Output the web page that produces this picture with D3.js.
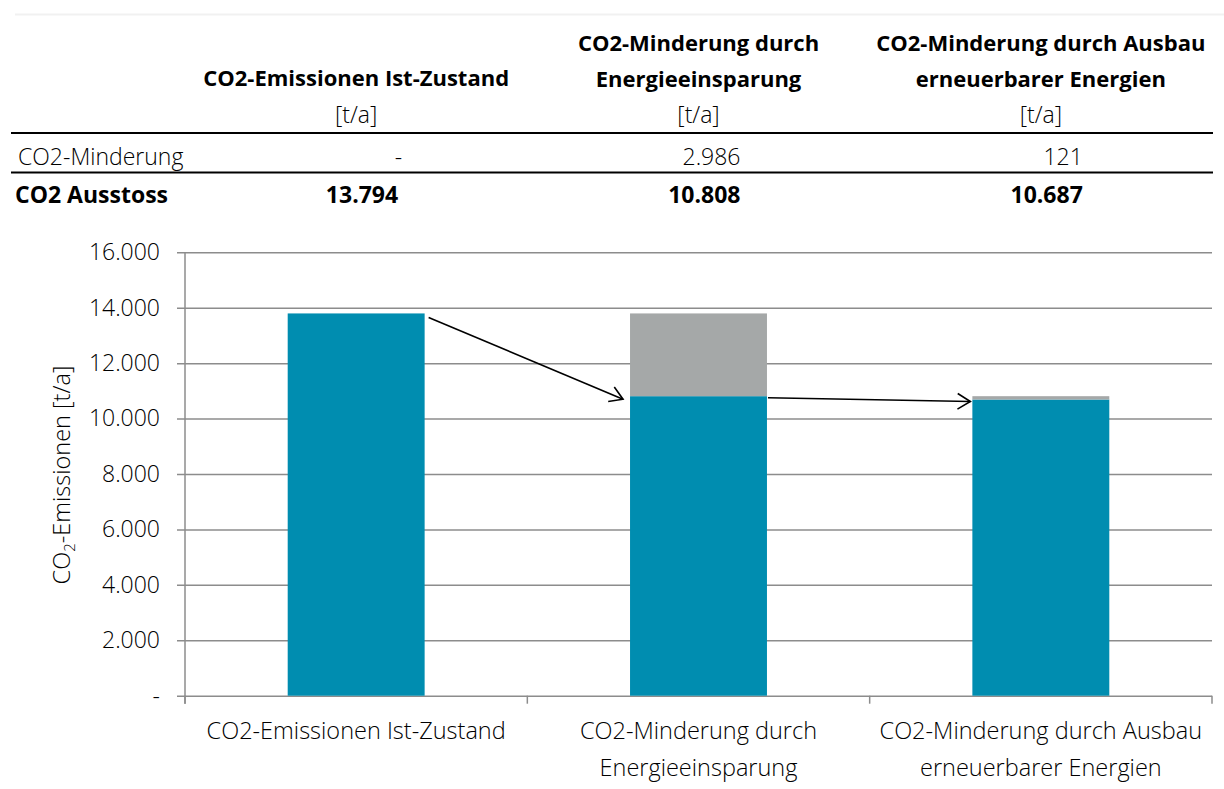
<!DOCTYPE html>
<html><head><meta charset="utf-8">
<script src="https://cdn.jsdelivr.net/npm/d3@7"></script>
<style>
html,body{margin:0;padding:0;background:#fff;}
svg{display:block;font-family:"Open Sans",Lato,sans-serif;}
</style></head>
<body>
<svg id="chart" width="1224" height="789"></svg>
<script>
// ---- data ----
const categories = ["CO2-Emissionen Ist-Zustand", "CO2-Minderung durch Energieeinsparung", "CO2-Minderung durch Ausbau erneuerbarer Energien"];
const categoryLines = [["CO2-Emissionen Ist-Zustand"], ["CO2-Minderung durch", "Energieeinsparung"], ["CO2-Minderung durch Ausbau", "erneuerbarer Energien"]];
const ausstoss = [13794, 10808, 10687];
const minderung = [0, 2986, 121];
const unitLabel = "[t/a]";
const rowLabels = ["CO2-Minderung", "CO2 Ausstoss"];
const yTicks = [0, 2000, 4000, 6000, 8000, 10000, 12000, 14000, 16000];
const colors = {base: "#008db0", reduction: "#a5a8a8"};

const fmt = v => v === 0 ? "-" : d3.format(",")(v).replace(/,/g, ".");
const LIGHT = 300;
const svg = d3.select("#chart");
const x = d3.scaleBand().domain(categories).range([185, 1212]).paddingInner(0.6).paddingOuter(0.3);
const y = d3.scaleLinear().domain([0, 16000]).range([695.7, 252.3]);
const cx = c => x(c) + x.bandwidth() / 2;

// faint top border
svg.append("line").attr("x1", 15).attr("x2", 1224).attr("y1", 14.5).attr("y2", 14.5)
  .attr("stroke", "#f1f1f1").attr("stroke-width", 2);

// ---- table ----
const tbl = svg.append("g").attr("fill", "#000");
const HS = 22, VS = 23;
categories.forEach((c, i) => {
  const lines = categoryLines[i];
  const ys = lines.length === 2 ? [51, 87] : [86];
  lines.forEach((l, j) => tbl.append("text").attr("x", cx(c)).attr("y", ys[j])
    .attr("text-anchor", "middle").attr("font-size", HS).attr("font-weight", 700).text(l));
  tbl.append("text").attr("x", cx(c)).attr("y", 123).attr("text-anchor", "middle")
    .attr("font-size", VS).attr("font-weight", LIGHT).text(unitLabel);
  tbl.append("text").attr("x", cx(c) + 42 + (minderung[i] === 0 ? 4 : 0)).attr("y", 165).attr("text-anchor", "end")
    .attr("font-size", VS).attr("font-weight", LIGHT).text(fmt(minderung[i]));
  tbl.append("text").attr("x", cx(c) + 42).attr("y", 203).attr("text-anchor", "end")
    .attr("font-size", VS).attr("font-weight", 700).text(fmt(ausstoss[i]));
});
tbl.append("text").attr("x", 18).attr("y", 165).attr("font-size", VS).attr("font-weight", LIGHT).text(rowLabels[0]);
tbl.append("text").attr("x", 15).attr("y", 203).attr("font-size", VS).attr("font-weight", 700).text(rowLabels[1]);
[133, 172.5].forEach(yy => svg.append("line").attr("x1", 11).attr("x2", 1213).attr("y1", yy).attr("y2", yy)
  .attr("stroke", "#000").attr("stroke-width", 2));

// ---- gridlines & y axis ----
const yAxis = d3.axisLeft(y).tickValues(yTicks).tickSize(-(1212 - 185)).tickPadding(25).tickFormat(fmt);
const gy = svg.append("g").attr("transform", "translate(185,0)").call(yAxis);
gy.select(".domain").remove();
gy.selectAll(".tick line").attr("x1", -8).attr("stroke", "#8c8c8c").attr("stroke-width", 1.5);
gy.selectAll(".tick text").attr("font-size", 23).attr("font-family", "'Open Sans', sans-serif").attr("fill", "#000").attr("font-weight", LIGHT);
svg.append("line").attr("x1", 185).attr("x2", 185).attr("y1", y(16000)).attr("y2", y(0) + 8)
  .attr("stroke", "#8c8c8c").attr("stroke-width", 1.5);

// x axis ticks at band boundaries
const bounds = categories.map(c => x(c) - x.step() * x.paddingInner() / 2).concat([1212]);
bounds[0] = 185;
bounds.forEach(b => svg.append("line").attr("x1", b).attr("x2", b).attr("y1", y(0)).attr("y2", y(0) + 8)
  .attr("stroke", "#8c8c8c").attr("stroke-width", 1.5));

// ---- bars ----
const bars = svg.append("g");
categories.forEach((c, i) => {
  bars.append("rect").attr("x", x(c)).attr("width", x.bandwidth())
    .attr("y", y(ausstoss[i])).attr("height", y(0) - y(ausstoss[i])).attr("fill", colors.base);
  if (minderung[i] > 0) {
    bars.append("rect").attr("x", x(c)).attr("width", x.bandwidth())
      .attr("y", y(ausstoss[i] + minderung[i])).attr("height", y(ausstoss[i]) - y(ausstoss[i] + minderung[i]))
      .attr("fill", colors.reduction);
  }
});

// ---- arrows ----
function arrow(x1, y1, x2, y2) {
  const g = svg.append("g").attr("stroke", "#000").attr("stroke-width", 1.6).attr("fill", "none");
  g.append("line").attr("x1", x1).attr("y1", y1).attr("x2", x2).attr("y2", y2);
  const a = Math.atan2(y2 - y1, x2 - x1), L = 15, w = 0.55;
  const p = [[x2 - L * Math.cos(a - w), y2 - L * Math.sin(a - w)], [x2, y2], [x2 - L * Math.cos(a + w), y2 - L * Math.sin(a + w)]];
  g.append("path").attr("d", d3.line()(p));
}
arrow(x(categories[0]) + x.bandwidth() + 4, y(ausstoss[0]) + 4, x(categories[1]) - 7, y(ausstoss[1]) + 3);
arrow(x(categories[1]) + x.bandwidth() + 1, y(ausstoss[1]) + 1.5, x(categories[2]) - 2, y(ausstoss[2]) + 2);

// ---- x labels ----
categories.forEach((c, i) => {
  categoryLines[i].forEach((l, j) => svg.append("text").attr("x", cx(c)).attr("y", 739 + j * 37)
    .attr("text-anchor", "middle").attr("font-size", 23.5).attr("font-weight", LIGHT).attr("fill", "#000").text(l));
});

// ---- y title ----
const yt = svg.append("text").attr("transform", "translate(70,475) rotate(-90)")
  .attr("text-anchor", "middle").attr("font-size", 23.5).attr("font-weight", LIGHT).attr("fill", "#000");
yt.append("tspan").text("CO");
yt.append("tspan").attr("font-size", 15).attr("dy", 5).text("2");
yt.append("tspan").attr("dy", -5).text("-Emissionen  [t/a]");
</script>
</body></html>
